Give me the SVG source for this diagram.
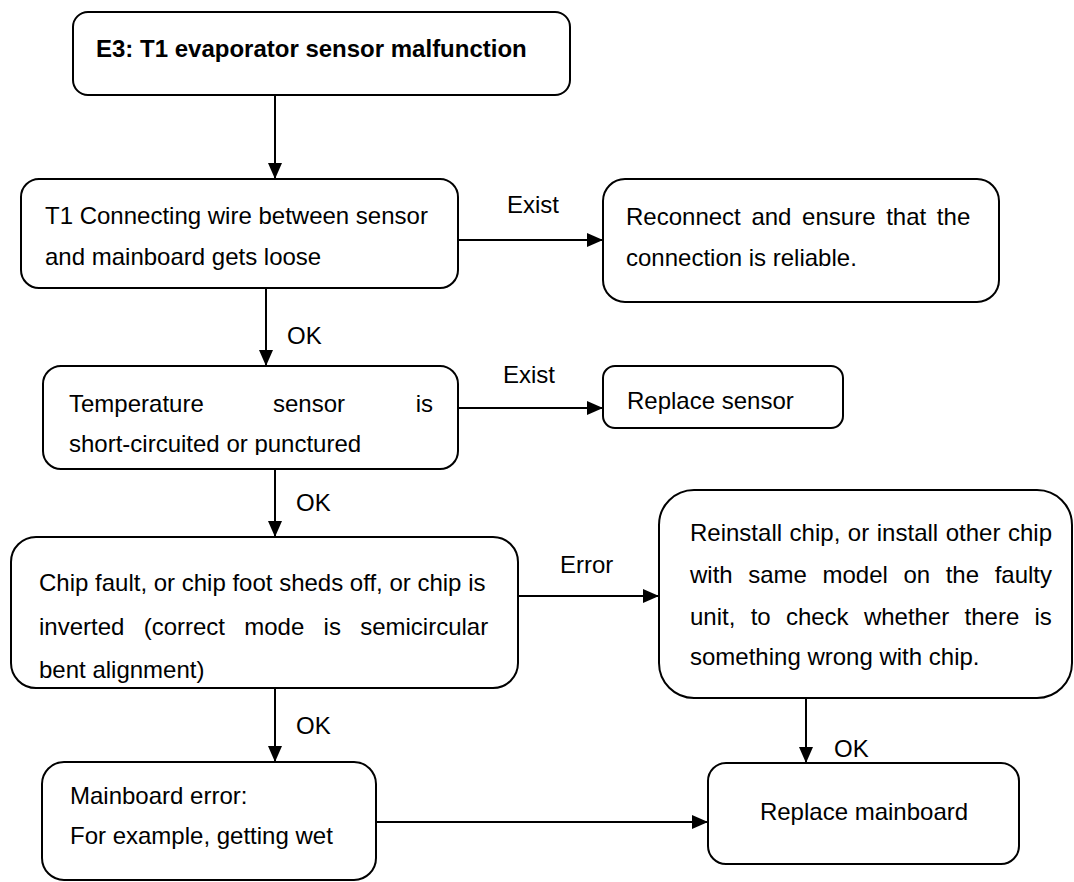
<svg xmlns="http://www.w3.org/2000/svg" width="1074" height="882" viewBox="0 0 1074 882">
<style>
.box{fill:#fff;stroke:#000;stroke-width:2}
.t{font-family:"Liberation Sans",Arial,sans-serif;font-size:24px;fill:#000}
.b{font-weight:bold}
.c{stroke:#000;stroke-width:2;fill:none;marker-end:url(#ah)}
</style>
<defs>
<marker id="ah" markerUnits="userSpaceOnUse" markerWidth="16" markerHeight="14" refX="16" refY="7" orient="auto">
<path d="M0,0 L16,7 L0,14 z" fill="#000"/>
</marker>
<clipPath id="clip4"><rect x="43" y="366" width="415" height="89"/></clipPath>
</defs>
<rect width="1074" height="882" fill="#fff"/>
<g id="connectors">
<line class="c" x1="275" y1="95" x2="275" y2="179"/>
<line class="c" x1="458" y1="240" x2="603" y2="240"/>
<text class="t" x="507" y="213">Exist</text>
<line class="c" x1="266" y1="288" x2="266" y2="366"/>
<text class="t" x="287" y="344">OK</text>
<line class="c" x1="458" y1="408" x2="603" y2="408"/>
<text class="t" x="503" y="383">Exist</text>
<line class="c" x1="275" y1="469" x2="275" y2="537"/>
<text class="t" x="296" y="511">OK</text>
<line class="c" x1="518" y1="596" x2="659" y2="596"/>
<text class="t" x="560" y="573">Error</text>
<line class="c" x1="275" y1="688" x2="275" y2="762"/>
<text class="t" x="296" y="734">OK</text>
<line class="c" x1="806" y1="698" x2="806" y2="763"/>
<text class="t" x="834" y="757">OK</text>
<line class="c" x1="376" y1="822" x2="708" y2="822"/>
</g>
<g id="n1">
<rect class="box" x="73" y="12" width="497" height="83" rx="15"/>
<text class="t b" x="96" y="57">E3: T1 evaporator sensor malfunction</text>
</g>
<g id="n2">
<rect class="box" x="21" y="179" width="437" height="109" rx="18"/>
<text class="t" x="45" y="224">T1 Connecting wire between sensor</text>
<text class="t" x="45" y="265">and mainboard gets loose</text>
</g>
<g id="n3">
<rect class="box" x="603" y="179" width="396" height="123" rx="22"/>
<text class="t" x="626" y="225" word-spacing="4">Reconnect and ensure that the</text>
<text class="t" x="626" y="266">connection is reliable.</text>
</g>
<g id="n4">
<rect class="box" x="43" y="366" width="415" height="103" rx="18"/>
<text class="t" x="69" y="412">Temperature</text>
<text class="t" x="273" y="412">sensor</text>
<text class="t" x="433" y="412" text-anchor="end">is</text>
<text class="t" x="69" y="452" clip-path="url(#clip4)">short-circuited or punctured</text>
</g>
<g id="n5">
<rect class="box" x="603" y="366" width="240" height="62" rx="12"/>
<text class="t" x="627" y="409">Replace sensor</text>
</g>
<g id="n6">
<rect class="box" x="11" y="537" width="507" height="151" rx="25"/>
<text class="t" x="39" y="591">Chip fault, or chip foot sheds off, or chip is</text>
<text class="t" x="39" y="635" word-spacing="12.6">inverted (correct mode is semicircular</text>
<text class="t" x="39" y="678">bent alignment)</text>
</g>
<g id="n7">
<rect class="box" x="659" y="490" width="413" height="208" rx="35"/>
<text class="t" x="690" y="541" word-spacing="0.9">Reinstall chip, or install other chip</text>
<text class="t" x="690" y="583" word-spacing="8.9">with same model on the faulty</text>
<text class="t" x="690" y="625" word-spacing="8.6">unit, to check whether there is</text>
<text class="t" x="690" y="665">something wrong with chip.</text>
</g>
<g id="n8">
<rect class="box" x="42" y="762" width="334" height="118" rx="22"/>
<text class="t" x="70" y="804">Mainboard error:</text>
<text class="t" x="70" y="844">For example, getting wet</text>
</g>
<g id="n9">
<rect class="box" x="708" y="763" width="311" height="101" rx="18"/>
<text class="t" x="864" y="820" text-anchor="middle">Replace mainboard</text>
</g>
</svg>
